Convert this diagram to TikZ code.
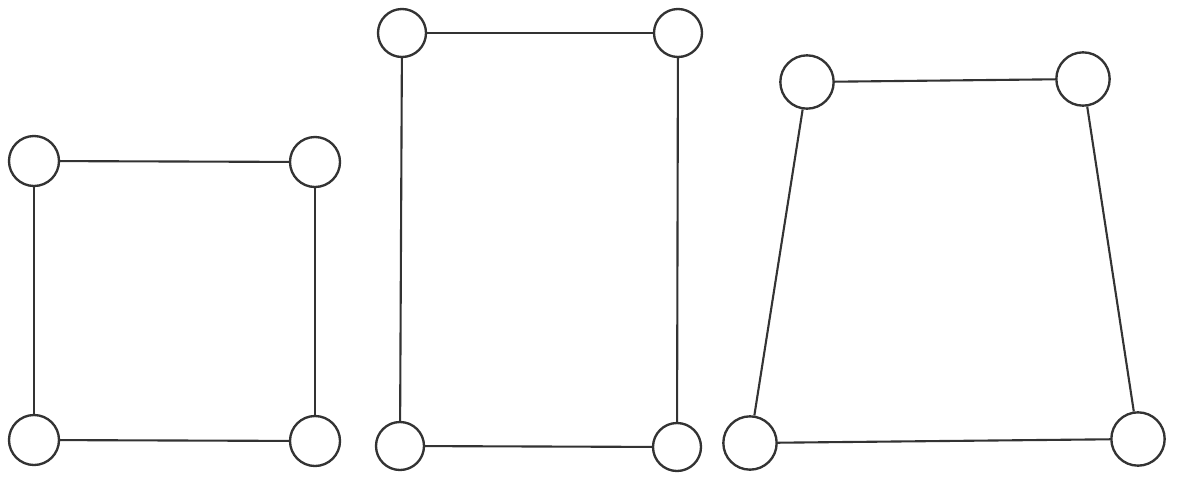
\documentclass[tikz,border=0pt]{standalone}
\begin{document}
\begin{tikzpicture}[x=0.03cm,y=-0.03cm,
  ring/.style={circle,draw=black!80,line width=2pt,inner sep=0pt,minimum size=1.5cm},
  ringS/.style={ring,minimum size=1.44cm},
  ringL/.style={ring,minimum size=1.6cm},
  edge/.style={draw=black!80,line width=1.8pt}]
\useasboundingbox (0,0) rectangle (1178,476);
% left square
\node[ring] (a1) at (34,161) {};
\node[ring] (a2) at (315,162) {};
\node[ring] (a3) at (34,440) {};
\node[ring] (a4) at (315,441) {};
\draw[edge] (a1) -- (a2);
\draw[edge] (a2) -- (a4);
\draw[edge] (a4) -- (a3);
\draw[edge] (a3) -- (a1);
% middle rectangle
\node[ringS] (b1) at (402,33) {};
\node[ringS] (b2) at (678,33) {};
\node[ringS] (b3) at (400,446) {};
\node[ringS] (b4) at (677,447) {};
\draw[edge] (b1) -- (b2);
\draw[edge] (b2) -- (b4);
\draw[edge] (b4) -- (b3);
\draw[edge] (b3) -- (b1);
% right trapezoid
\node[ringL] (c1) at (807,82) {};
\node[ringL] (c2) at (1083,79) {};
\node[ringL] (c3) at (750,443) {};
\node[ringL] (c4) at (1138,439) {};
\draw[edge] (c1) -- (c2);
\draw[edge] (c2) -- (c4);
\draw[edge] (c4) -- (c3);
\draw[edge] (c3) -- (c1);
\end{tikzpicture}
\end{document}
